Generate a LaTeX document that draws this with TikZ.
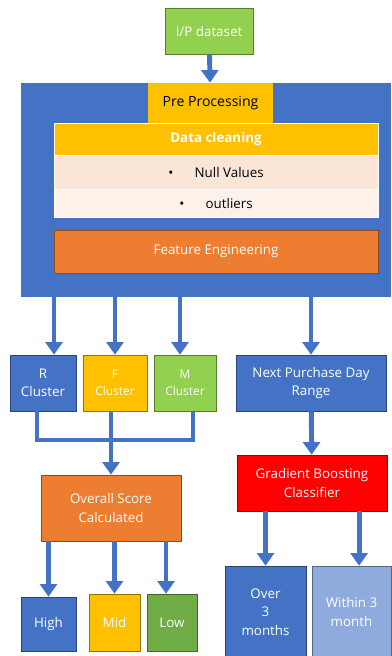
\documentclass[tikz,border=0pt]{standalone}
\usepackage{fontspec}
\setmainfont{Open Sans}
\usepackage{xcolor}
\usetikzlibrary{positioning,arrows.meta}

\definecolor{cblue}{HTML}{4472C4}
\definecolor{cgold}{HTML}{FFC000}
\definecolor{cgreen}{HTML}{92D050}
\definecolor{cdgreen}{HTML}{70AD47}
\definecolor{corange}{HTML}{ED7D31}
\definecolor{cred}{HTML}{FF0000}
\definecolor{clblue}{HTML}{8FAADC}
\definecolor{cpeach}{HTML}{FBE5D6}
\definecolor{ccream}{HTML}{FDF2E9}

\begin{document}
\begin{tikzpicture}[
    stage/.style={rectangle, draw=#1!60!black, fill=#1, text=white, align=center,
        inner sep=1pt, font=\fontsize{9.5}{13}\selectfont},
    row/.style={rectangle, draw=white, fill=#1, minimum width=8.1cm, align=center,
        inner sep=1pt, font=\fontsize{9.5}{12}\selectfont},
    flow/.style={draw=cblue, line width=3.5pt, -{Triangle[width=12pt,length=9pt]}},
    link/.style={draw=cblue, line width=3pt}]
        \useasboundingbox (0,0) rectangle (9.775,-16.4);

        % input and the pre processing block
        \node (ip) [stage=cgreen, text=white, minimum width=2.2cm, minimum height=1.15cm] at (5.225,-0.775) {I/P dataset};
        \node (outer) [rectangle, fill=cblue, minimum width=9.25cm, minimum height=5.35cm] at (5.15,-4.75) {};
        \node (pre) [rectangle, fill=cgold, minimum width=3.125cm, minimum height=1cm, font=\fontsize{10}{12}\selectfont] at (5.2625,-2.575) {Pre Processing};
        \node (clean) [row=cgold, text=white, minimum height=0.8cm, font=\bfseries\fontsize{9.5}{12}\selectfont] at (5.4,-3.475) {Data cleaning};
        \node (nulls) [row=cpeach, minimum height=0.85cm] at (5.4,-4.3) {\textbullet\hspace{1.6em}Null Values};
        \node (outl) [row=ccream, minimum height=0.7cm] at (5.4,-5.075) {\textbullet\hspace{1.6em}outliers};
        \node (feat) [stage=corange, minimum width=8.1cm, minimum height=1.075cm] at (5.4,-6.2875) {Feature Engineering};

        % clusters and next purchase range
        \node (R) [stage=cblue, minimum width=1.65cm, minimum height=1.4cm] at (1.075,-9.575) {R\\Cluster};
        \node (F) [stage=cgold, minimum width=1.6cm, minimum height=1.4cm, font=\fontsize{8.5}{12}\selectfont] at (2.875,-9.575) {F\\Cluster};
        \node (M) [stage=cgreen, minimum width=1.55cm, minimum height=1.4cm, font=\fontsize{8.5}{12}\selectfont] at (4.625,-9.575) {M\\Cluster};
        \node (next) [stage=cblue, minimum width=3.75cm, minimum height=1.4cm] at (7.775,-9.575) {Next Purchase Day\\Range};

        \node (overall) [stage=corange, minimum width=3.5cm, minimum height=1.65cm] at (2.775,-12.7) {Overall Score\\Calculated};
        \node (grad) [stage=cred, minimum width=3.75cm, minimum height=1.4cm] at (7.8,-12.075) {Gradient Boosting\\Classifier};

        % outcomes
        \node (high) [stage=cblue, minimum width=1.375cm, minimum height=1.35cm] at (1.2125,-15.6) {High};
        \node (mid) [stage=cgold, minimum width=1.275cm, minimum height=1.425cm] at (2.8625,-15.5625) {Mid};
        \node (low) [stage=cdgreen, minimum width=1.25cm, minimum height=1.425cm] at (4.3,-15.5625) {Low};
        \node (over) [stage=cblue, minimum width=2.025cm, minimum height=2.3cm] at (6.6375,-15.3) {Over\\3\\months};
        \node (within) [stage=clblue, minimum width=1.975cm, minimum height=2.3cm] at (8.7875,-15.3) {Within 3\\month};

        \coordinate (rin) at ([xshift=2.75mm]R.north);
        \coordinate (min) at ([xshift=-1.25mm]M.north);
        \coordinate (lin) at ([xshift=-1.5mm]low.north);
        \coordinate (win) at ([xshift=1.9mm]within.north);

        \draw[flow] (ip) -- (pre);
        \draw[flow] (outer.south -| rin) -- (rin);
        \draw[flow] (outer.south -| F.north) -- (F.north);
        \draw[flow] (outer.south -| min) -- (min);
        \draw[flow] (outer.south -| next.north) -- (next.north);

        \draw[link] ([xshift=-1.5mm]R.south) -- ++(0,-0.725) -| ([xshift=2mm]M.south);
        \draw[flow] (F.south -| overall.north) -- (overall.north);

        \draw[flow] (overall.south -| high.north) -- (high.north);
        \draw[flow] (overall.south -| mid.north) -- (mid.north);
        \draw[flow] (overall.south -| lin) -- (lin);

        \draw[flow] (next) -- (grad);
        \draw[flow] (grad.south -| over.north) -- (over.north);
        \draw[flow] (grad.south -| win) -- (win);
    \end{tikzpicture}
\end{document}
